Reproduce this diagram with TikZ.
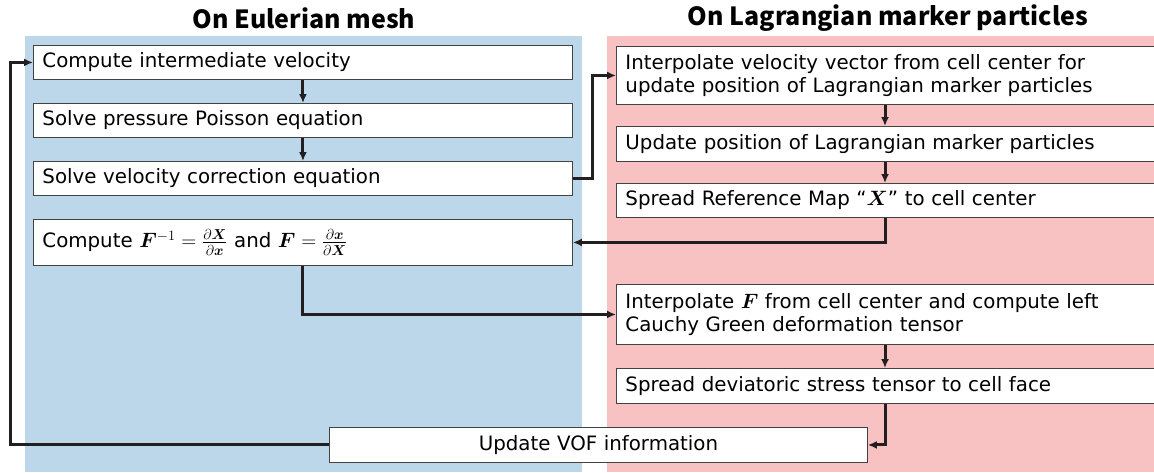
\documentclass[tikz,border=0pt]{standalone}
\usepackage{amsmath}
\usepackage{fontspec}
\usepackage{bm}
\setmainfont{DejaVu Sans}
\newfontfamily\titlefont{Noto Sans CJK JP}
\usetikzlibrary{arrows.meta}
\definecolor{eulerbg}{RGB}{189,215,234}
\definecolor{lagbg}{RGB}{248,193,194}
\definecolor{ink}{RGB}{35,31,32}

\begin{document}
\begin{tikzpicture}[x=1pt,y=-1pt,
    box/.style={draw=ink!85, line width=0.9pt, fill=white, anchor=north west, inner xsep=9pt, inner ysep=0pt, align=left, font=\fontsize{19.8}{23.5}\selectfont},
    flow/.style={line width=3pt, draw=ink, -{Latex[length=9pt,width=8pt]}},
    heading/.style={font=\titlefont\bfseries\fontsize{25}{28}\selectfont}]
    \clip (0,0) rectangle (1154,472);
    \fill[eulerbg] (25,36) rectangle (582,472);
    \fill[lagbg] (607,36) rectangle (1160,472);
    \node[heading] (te) at (304,18) {On Eulerian mesh};
    \node[heading] (tl) at (888,18) {On Lagrangian marker particles};
    \node[box, text width=521pt, minimum height=34pt] (b1) at (33,45) {Compute intermediate velocity};
    \node[box, text width=521pt, minimum height=34pt] (b2) at (33,103) {Solve pressure Poisson equation};
    \node[box, text width=521pt, minimum height=34pt] (b3) at (33,161) {Solve velocity correction equation};
    \node[box, text width=521pt, minimum height=46pt] (b4) at (33,219) {Compute $\bm{F}^{-1}=\frac{\partial\bm{X}}{\partial\bm{x}}$ and $\bm{F}=\frac{\partial\bm{x}}{\partial\bm{X}}$};
    \node[box, text width=532pt, minimum height=58pt] (p1) at (616,46) {Interpolate velocity vector from cell center for\\update position of Lagrangian marker particles};
    \node[box, text width=532pt, minimum height=35pt] (p2) at (616,126) {Update position of Lagrangian marker particles};
    \node[box, text width=532pt, minimum height=34pt] (p3) at (616,183) {Spread Reference Map “$\bm{X}$” to cell center};
    \node[box, text width=532pt, minimum height=60pt] (p4) at (616,284) {Interpolate $\bm{F}$ from cell center and compute left\\Cauchy Green deformation tensor};
    \node[box, text width=532pt, minimum height=35pt] (p5) at (616,368) {Spread deviatoric stress tensor to cell face};
    \node[box, text width=520pt, minimum height=35pt, align=center] (u) at (329,427) {Update VOF information};
    \coordinate (rc) at (885,0);
    \coordinate (lb) at (10,0);
    \draw[flow] (b1.south) -- (b2.north);
    \draw[flow] (b2.south) -- (b3.north);
    \draw[flow] (b3.east) -- ++(20,0) |- (p1.west);
    \draw[flow] (p1.south -| rc) -- (p2.north -| rc);
    \draw[flow] (p2.south -| rc) -- (p3.north -| rc);
    \draw[flow] (p3.south -| rc) |- (b4.east);
    \draw[flow] (b4.south) |- (p4.west);
    \draw[flow] (p4.south -| rc) -- (p5.north -| rc);
    \draw[flow] (p5.south -| rc) |- (u.east);
    \draw[flow] (u.west) -- (u.west -| lb) |- (b1.west);
\end{tikzpicture}
\end{document}
